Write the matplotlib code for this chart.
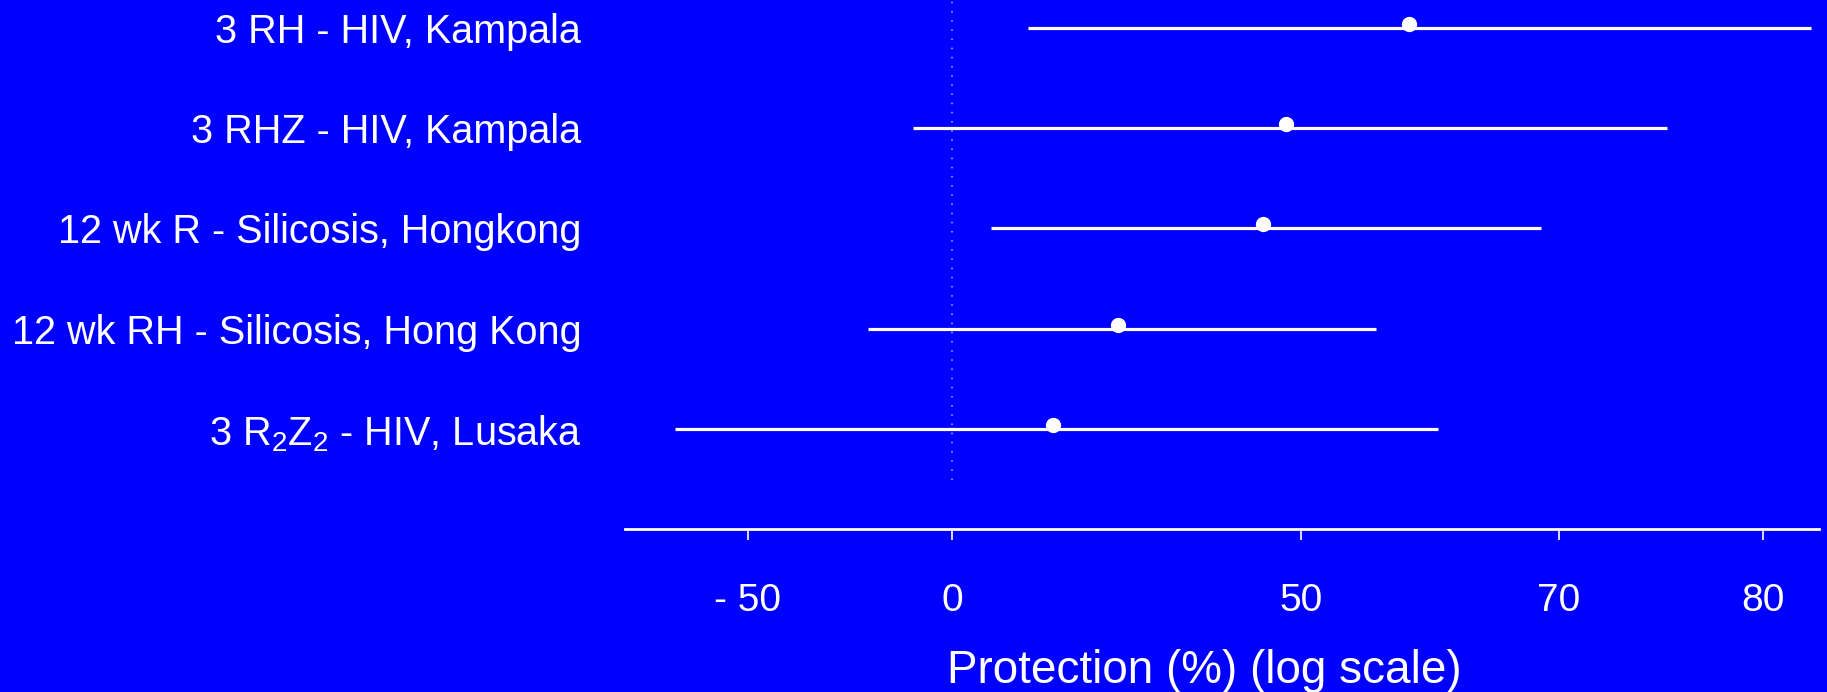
import numpy as np
import matplotlib
matplotlib.use("Agg")
import matplotlib.pyplot as plt
import matplotlib.transforms as mtransforms

plt.rcParams['font.family'] = ['Liberation Sans', 'DejaVu Sans']
plt.rcParams['mathtext.fontset'] = 'custom'
plt.rcParams['mathtext.rm'] = 'Liberation Sans'
plt.rcParams['mathtext.it'] = 'Liberation Sans'
plt.rcParams['mathtext.default'] = 'regular'

# Data (protection %, i.e. 100*(1-RR))
studies = ["3 RH - HIV, Kampala",
           "3 RHZ - HIV, Kampala",
           "12 wk R - Silicosis, Hongkong",
           "12 wk RH - Silicosis, Hong Kong",
           "3 R$_2$Z$_2$ - HIV, Lusaka"]
protection = [59.6, 48.5, 46.0, 28.1, 18.1]
ci_low = [14.0, -8.1, 7.5, -18.2, -73.3]
ci_high = [81.8, 75.8, 68.9, 56.9, 61.9]
tick_values = [-50, 0, 50, 70, 80]
tick_labels = ["- 50", "0", "50", "70", "80"]


def to_axis(p):
    # log scale of relative risk, oriented so protection increases to the right
    return -np.log(1 - np.asarray(p, dtype=float) / 100.0)


BG = '#0000FF'
W, H = 1827, 692
fig = plt.figure(figsize=(W / 100, H / 100), dpi=100, facecolor=BG)
ax = fig.add_axes([625 / W, (H - 529.3) / H, (1819 - 625) / W, 529.3 / H])
ax.set_facecolor(BG)

n = len(studies)
ypos = np.arange(n, 0, -1)

ax.set_xlim(to_axis(-91.4), to_axis(82.1))
ax.set_ylim(0, n + 0.276)

# reference line at no effect
ax.axvline(to_axis(0), ymin=0.093, ymax=1, color='#b4b4ff', lw=1.1,
           linestyle=(0, (1, 5)), zorder=1)

for y, lo, hi in zip(ypos, ci_low, ci_high):
    ax.plot([to_axis(lo), to_axis(hi)], [y, y], color='white', lw=2.3,
            solid_capstyle='butt', zorder=2)

off = mtransforms.offset_copy(ax.transData, fig=fig, x=0, y=4, units='dots')
ax.plot(to_axis(protection), ypos, 'o', color='white', ms=10, mec='white',
        transform=off, zorder=3, clip_on=False)

# axes styling
for s in ['left', 'right', 'top']:
    ax.spines[s].set_visible(False)
ax.spines['bottom'].set_color('white')
ax.spines['bottom'].set_linewidth(2.0)

ax.set_xticks(to_axis(tick_values))
ax.set_xticklabels(tick_labels)
ax.tick_params(axis='x', direction='out', length=8, width=1.2,
               colors='white', labelsize=28, pad=31)

ax.set_yticks(ypos)
ax.set_yticklabels(studies)
ax.tick_params(axis='y', length=0, colors='white', labelsize=28.5, pad=31.5)

fig.text(1204 / W, (H - 682.7) / H, "Protection (%) (log scale)",
         color='white', fontsize=33, ha='center', va='baseline')

fig.savefig("out.png", dpi=100, facecolor=BG)
